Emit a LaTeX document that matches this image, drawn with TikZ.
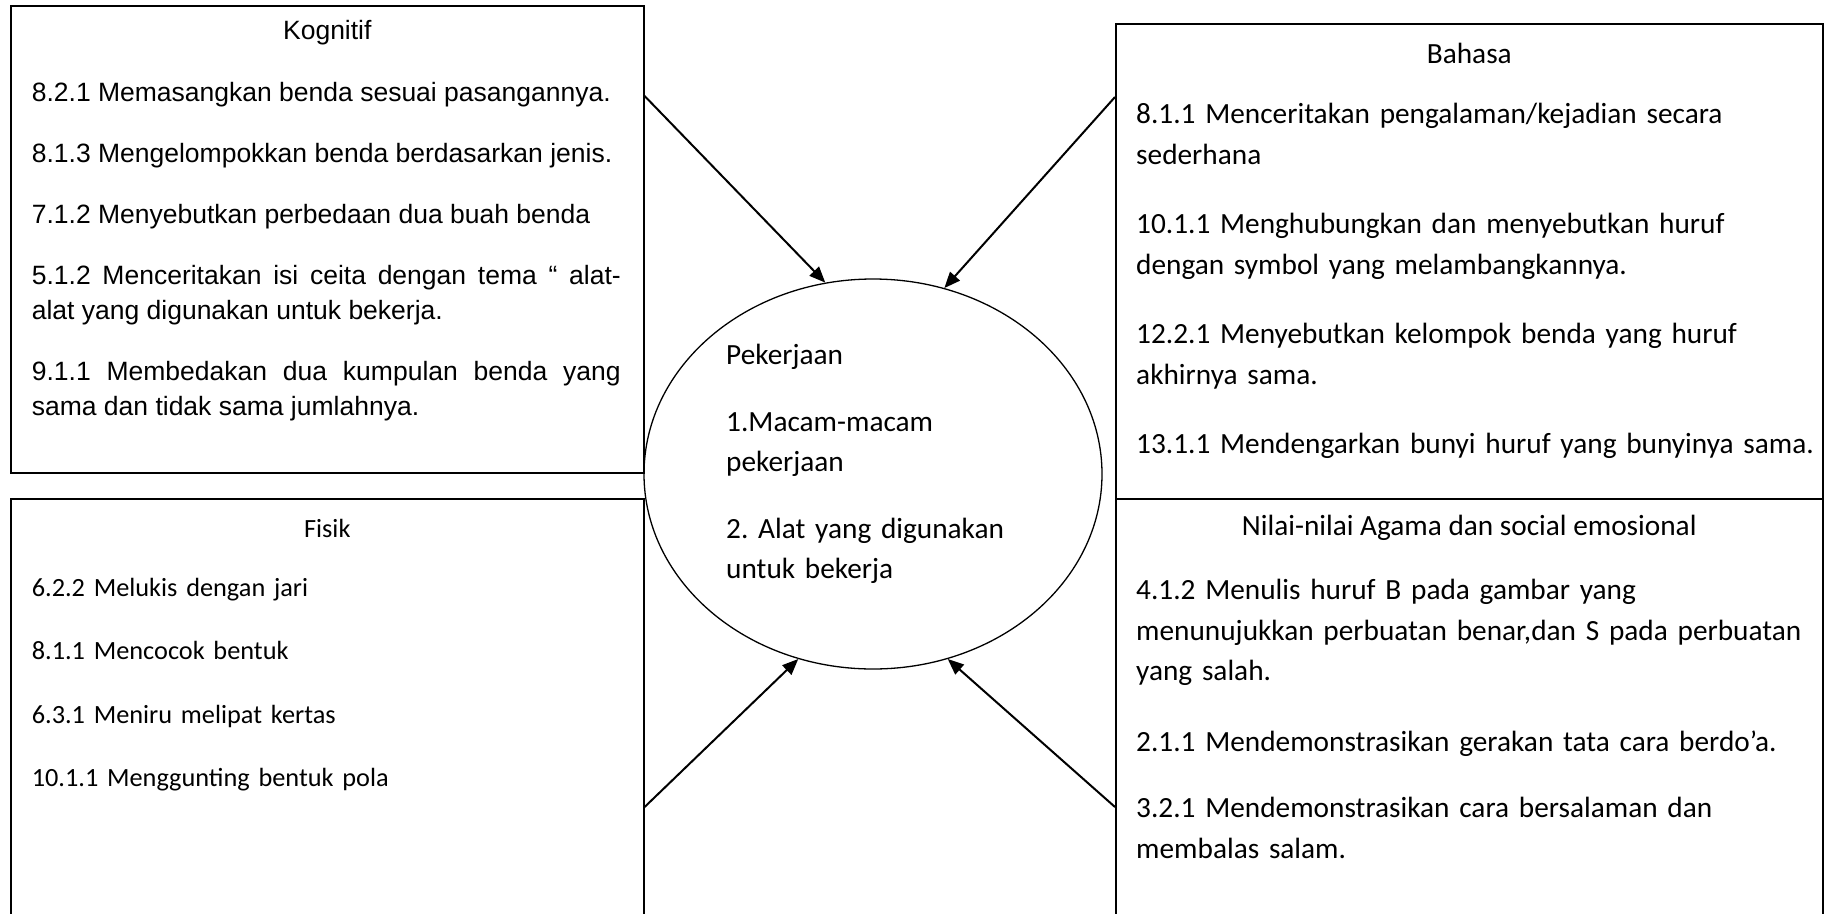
\documentclass[tikz,border=0pt]{standalone}
\usepackage{fontspec}
\setmainfont{Carlito}
\newfontfamily\arialfont{Liberation Sans}
\usetikzlibrary{
    arrows.meta,
    shapes.geometric,
    positioning
}
\frenchspacing

\tikzset{
    area/.style={draw, line width=1.6pt, inner sep=0pt, anchor=north west},
    head/.style={inner sep=0pt, font=\fontsize{29.3}{40.5}\selectfont},
    items/.style={inner sep=0pt, anchor=north west, align=left, font=\fontsize{29.3}{40.5}\selectfont},
    flow/.style={line width=2pt, -{Triangle[length=16pt,width=13pt]}}
}

\begin{document}
\begin{tikzpicture}[x=1pt, y=-1pt]
\useasboundingbox (0,0) rectangle (1830,913);
\clip (0,0) rectangle (1830,913);
% the four areas and the theme
\node[area, minimum width=633pt, minimum height=467pt] (kog) at (10,5) {};
\node[area, minimum width=707pt, minimum height=475pt] (bhs) at (1115,23) {};
\node[area, minimum width=633pt, minimum height=440pt] (fis) at (10,498) {};
\node[area, minimum width=707pt, minimum height=440pt] (nil) at (1115,498) {};
\node[draw, ellipse, line width=1.3pt, inner sep=0pt, minimum width=458pt, minimum height=390pt] (pek) at (873,474) {};

% titles
\node[head, font=\arialfont\fontsize{26.5}{35}\selectfont] (kogt) at ([yshift=-28pt]kog.north) {Kognitif};
\node[head] (bhst) at ([yshift=-30pt]bhs.north) {Bahasa};
\node[head, font=\fontsize{26.3}{36.5}\selectfont] (fist) at ([yshift=-30pt]fis.north) {Fisik};
\node[head] (nilt) at ([yshift=-30pt]nil.north) {Nilai-nilai Agama dan social emosional};

% lists
\node[items, align=justify, text width=589pt, font=\arialfont\fontsize{26.5}{35}\selectfont,
      below right=77pt and 21.6pt of kog.north west] (kogl) {8.2.1 Memasangkan benda sesuai pasangannya.\\[26pt]8.1.3 Mengelompokkan benda berdasarkan jenis.\\[26pt]7.1.2 Menyebutkan perbedaan dua buah benda\\[26pt]5.1.2 Menceritakan isi ceita dengan tema “ alat-\linebreak alat yang digunakan untuk bekerja.\\[26pt]9.1.1 Membedakan dua kumpulan benda yang\linebreak sama dan tidak sama jumlahnya.};
\node[items, text width=680pt, below right=80pt and 21pt of bhs.north west] (bhsl) {8.1.1 Menceritakan pengalaman/kejadian secara\\sederhana\\[29pt]10.1.1 Menghubungkan dan menyebutkan huruf\\dengan symbol yang melambangkannya.\\[29pt]12.2.1 Menyebutkan kelompok benda yang huruf\\akhirnya sama.\\[29pt]13.1.1 Mendengarkan bunyi huruf yang bunyinya sama.};
\node[items, text width=500pt, font=\fontsize{26.3}{36.5}\selectfont,
      below right=80pt and 21.6pt of fis.north west] (fisl) {6.2.2 Melukis dengan jari\\[26.8pt]8.1.1 Mencocok bentuk\\[26.8pt]6.3.1 Meniru melipat kertas\\[26.8pt]10.1.1 Menggunting bentuk pola};
\node[items, text width=680pt, below right=81pt and 21pt of nil.north west] (nill) {4.1.2 Menulis huruf B pada gambar yang\\menunujukkan perbuatan benar,dan S pada perbuatan\\yang salah.\\[30pt]2.1.1 Mendemonstrasikan gerakan tata cara berdo’a.\\[26pt]3.2.1 Mendemonstrasikan cara bersalaman dan\\membalas salam.};
\node[items, text width=320pt] (pekt) at ([xshift=-147pt, yshift=130pt]pek.center) {Pekerjaan\\[26pt]1.Macam-macam\\pekerjaan\\[26pt]2. Alat yang digunakan\\untuk bekerja};

% arrows into the theme
\coordinate (kogout) at ([yshift=-91pt]kog.north east);
\coordinate (bhsout) at ([yshift=-74pt]bhs.north west);
\coordinate (fisout) at ([yshift=-309pt]fis.north east);
\coordinate (nilout) at ([yshift=-309pt]nil.north west);
\draw[flow] (kogout) -- (pek.104);
\draw[flow] (bhsout) -- (pek.69);
\draw[flow] (fisout) -- (pek.248);
\draw[flow] (nilout) -- (pek.292);
\end{tikzpicture}
\end{document}
